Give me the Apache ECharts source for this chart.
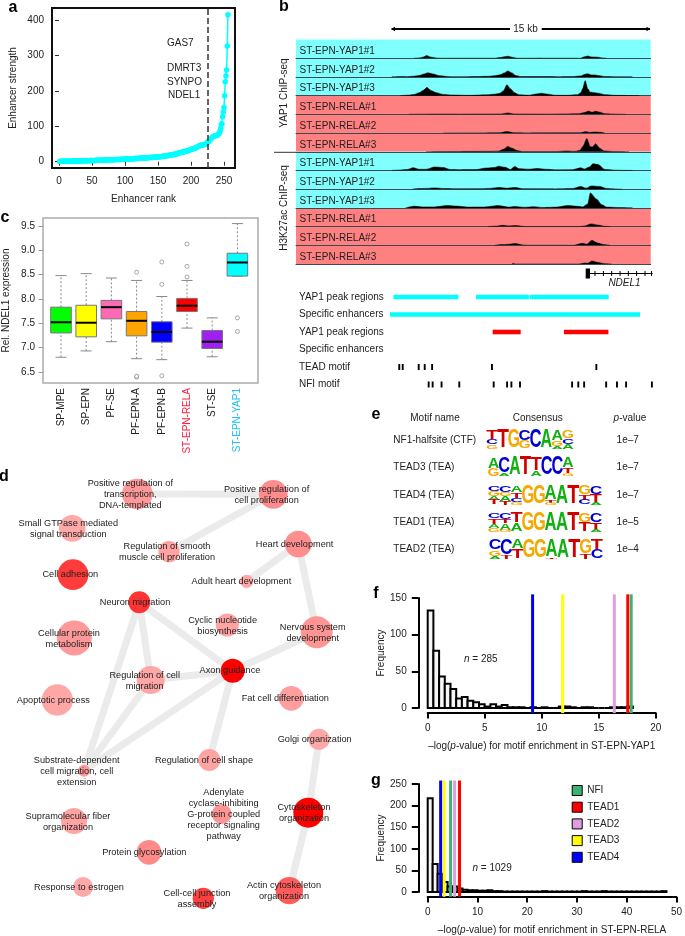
<!DOCTYPE html>
<html><head><meta charset="utf-8">
<style>html,body{margin:0;padding:0;background:#fff}#c{width:685px;height:936px}</style>
<script src="https://cdn.jsdelivr.net/npm/echarts@6/dist/echarts.min.js"></script>
</head><body><div id="c"></div>
<script>
// ---------- a: enhancer ranking ----------
const enhancerStrength = [
.8,.9,1,1,1,1.1,1.1,1.2,1.2,1.3, 1.3,1.3,1.4,1.4,1.5,1.5,1.5,1.6,1.6,1.7,
1.7,1.8,1.8,1.9,1.9,2,2,2.1,2.1,2.2, 2.2,2.3,2.3,2.4,2.4,2.5,2.5,2.6,2.7,2.7,
2.8,2.8,2.9,2.9,3,3,3.1,3.2,3.2,3.3, 3.4,3.4,3.5,3.6,3.6,3.7,3.8,3.8,3.9,4,
4,4.1,4.2,4.2,4.3,4.4,4.5,4.5,4.6,4.7, 4.8,4.8,4.9,5,5.1,5.1,5.2,5.3,5.4,5.5,
5.5,5.6,5.7,5.8,5.9,6,6,6.1,6.2,6.3, 6.4,6.5,6.5,6.6,6.7,6.8,6.9,7,7.1,7.2,
7.3,7.4,7.5,7.6,7.7,7.8,7.9,8,8.1,8.2, 8.3,8.4,8.5,8.6,8.7,8.8,8.9,9,9.2,9.3,
9.4,9.5,9.6,9.8,9.9,10,10.1,10.3,10.4,10.5, 10.7,10.8,11,11.1,11.2,11.4,11.5,11.7,11.8,12,
12.1,12.3,12.4,12.6,12.7,12.9,13,13.2,13.4,13.5, 13.7,13.9,14.1,14.3,14.5,14.7,14.9,15.1,15.3,15.6,
15.9,16.3,16.7,17,17.4,17.8,18,18.3,18.6,18.9, 19.2,19.5,19.9,20.3,20.8,21.2,21.6,22,22.6,23.4,
24.5,25,25.4,25.8,26.1,26.5,26.9,27.2,27.6,28, 28.6,29.2,29.8,30.4,31,31.6,32.3,33,33.6,34.2,
35,35.6,36.3,37,37.6,38.3,39,40,41,42, 43,44,45,45.8,46.5,47,47.3,47.7,48,48.4,
48.8,49.5,50.5,52,54,56,58,60,62,64, 66,68,69.5,71,72,72.8,73.5,74,74.5,75,
76,78,81,86,94,106,107,127,140,153, 186,226,242,259,327,415];
const superEnhancerCut = 225;
const enhancerGenes = ['GAS7','DMRT3','SYNPO','NDEL1'];
const rankTicks = [0,50,100,150,200,250];
const strengthTicks = [0,100,200,300,400];

// ---------- c: expression boxplots ----------
const subgroups = ['SP-MPE','SP-EPN','PF-SE','PF-EPN-A','PF-EPN-B','ST-EPN-RELA','ST-SE','ST-EPN-YAP1'];
const boxMin = [6.80,6.93,7.12,6.77,6.75,7.40,6.81,8.47];
const boxQ1  = [7.30,7.22,7.59,7.24,7.11,7.74,6.98,8.47];
const boxMed = [7.52,7.51,7.83,7.55,7.32,7.86,7.12,8.75];
const boxQ3  = [7.83,7.87,7.97,7.74,7.53,8.01,7.35,8.94];
const boxMax = [8.48,8.52,8.43,8.38,8.05,8.38,7.61,9.55];
const boxOutliers = [[3,8.55],[3,6.39],[3,6.41],[4,8.76],[4,8.30],[4,6.42],[5,9.13],[5,8.67],[5,8.45],[7,7.61],[7,7.33]];
const boxColors = ['#00ff00','#ffff00','#ff69b4','#ffa500','#0000ff','#ff0000','#a020f0','#00ffff'];
const exprTicks = [6.5,7,7.5,8,8.5,9,9.5];

// ---------- b: ChIP-seq tracks, [kb, signal] ----------
const yapYap1 = [[1.3,0],[1.6,.2],[1.85,1.2],[2.03,2.7],[2.25,1.2],[2.6,.2],[2.9,0],[6,0],[6.3,.6],[6.6,1.6],[6.75,2],[7,1],[7.3,0],[8.4,0],[8.6,.2],[8.8,0],[11,0],[11.15,1.2],[11.4,2.2],[11.6,1.3],[11.8,1.2],[12,1],[12.3,.2],[12.5,0]];
const yapYap2 = [[0,0],[.6,.3],[.9,.2],[1.2,.6],[1.6,1.5],[1.9,3],[2.1,4.2],[2.4,3],[2.8,1.2],[3.2,.5],[3.5,.2],[4.2,.2],[5,.4],[5.6,.6],[6,1.2],[6.3,2.2],[6.55,4],[6.75,6],[7,4],[7.2,1.5],[7.5,.4],[8.2,.4],[9,.4],[9.8,.2],[10.5,.3],[11,1],[11.2,2.5],[11.4,3.2],[11.6,2],[11.8,2],[12,1.5],[12.4,.4],[13,.2],[13.8,.1],[14,0]];
const yapYap3 = [[.5,0],[1,.5],[1.3,1.2],[1.6,3],[1.85,5.5],[2.05,8.3],[2.25,5.5],[2.6,3],[3,1.2],[3.5,.6],[4.5,.3],[5.5,.8],[6,1.5],[6.3,2.5],[6.5,5],[6.7,11],[6.9,7],[7.15,3],[7.4,.8],[8,.4],[8.3,1.5],[8.7,2.3],[9.1,1.5],[9.5,.4],[10.2,.3],[10.8,1],[11,3],[11.1,7],[11.25,15],[11.4,7],[11.55,3.5],[11.8,3],[12,2.5],[12.4,1],[13,.3],[14,.1],[14.4,0]];
const yapRela1 = [[1,.1],[2,.2],[3,.3],[4,.2],[5,.3],[6,.3],[6.4,.4],[6.75,1.4],[7.1,.4],[8,.3],[9,.2],[10,.4],[10.9,.6],[11.2,1.8],[11.45,3.3],[11.65,2],[11.85,3],[12.1,2.2],[12.4,.6],[13,.2],[13.6,0]];
const yapRela2 = [[3,0],[5,.1],[6.3,.3],[6.7,1.5],[7.1,.3],[8,.1],[10,.2],[11,.3],[11.3,1.5],[11.5,.6],[11.8,1],[12.1,.8],[12.4,0]];
const yapRela3 = [[2,0],[3,.2],[5.5,.4],[6.2,.6],[6.5,2.5],[6.75,5.3],[7,3.5],[7.3,1.2],[7.6,.2],[9.5,.2],[10.2,.8],[10.7,.4],[10.95,1.5],[11.1,5],[11.35,13.3],[11.55,5],[11.7,5],[11.85,8],[12.1,3.5],[12.35,.8],[13,.2],[13.8,0]];
const acYap1 = [[0,0],[.4,.4],[.9,1],[1.25,2.8],[1.6,1.2],[2,1.2],[2.5,3.5],[3,3],[3.4,1],[4,.8],[4.9,.9],[5.5,2.5],[6,3],[6.2,4.3],[6.6,3.2],[6.9,1],[7.15,4],[7.4,1.8],[8,1.3],[8.5,2],[9,1.2],[9.6,.6],[10.5,.8],[11,2.7],[11.2,1.4],[11.5,3.5],[11.7,6.7],[12,6],[12.4,1],[13,.3],[13.6,.1],[14,0]];
const acYap2 = [[1.2,0],[1.6,.6],[2,.8],[2.5,1.3],[3,.7],[4,.4],[5,.5],[5.7,.8],[6.2,1.7],[6.7,1],[7.2,1.7],[7.6,.5],[8.5,.4],[9.5,.3],[10.5,.6],[11,2.7],[11.3,1],[11.6,3.3],[12.1,2.8],[12.5,.6],[13,.2],[13.4,0]];
const acYap3 = [[.8,0],[1.3,1.7],[1.8,1],[2.5,1],[3.2,2.3],[3.8,1.8],[4.4,.8],[5.4,.9],[6.2,2.3],[6.8,.8],[7.2,1.5],[7.7,.6],[8.3,1.2],[8.8,.4],[9.6,.8],[10.2,2.3],[10.8,1.6],[11.1,1],[11.4,4],[11.55,15],[11.9,9],[12.2,3.5],[12.5,.8],[13.2,.3],[14,0]];
const acRela1 = [[5.6,0],[6.1,.5],[6.4,1.3],[6.8,.7],[7.2,1],[7.6,.3],[7.9,0],[10.9,0],[11.2,.6],[11.6,2.7],[12,1.6],[12.4,.3],[12.7,0]];
const acRela2 = [[6,0],[6.4,.7],[6.8,1],[7.2,1.7],[7.6,.4],[8,0],[10.6,0],[10.95,1.6],[11.1,2],[11.35,1],[11.63,5],[12,2.2],[12.3,.8],[12.7,0]];
const acRela3 = [[7,0],[7.05,.6],[7.2,0],[10.9,0],[11.2,1],[11.4,.8],[11.65,3],[12,1.6],[12.4,.3],[12.8,0]];
const trackLabels = ['ST-EPN-YAP1#1','ST-EPN-YAP1#2','ST-EPN-YAP1#3','ST-EPN-RELA#1','ST-EPN-RELA#2','ST-EPN-RELA#3'];
const trackSignals = [yapYap1,yapYap2,yapYap3,yapRela1,yapRela2,yapRela3,acYap1,acYap2,acYap3,acRela1,acRela2,acRela3];
const trackBg = ['#80ffff','#80ffff','#80ffff','#ff8080','#ff8080','#ff8080'];

// annotation rows (kb)
const annotationRows = ['YAP1 peak regions','Specific enhancers','YAP1 peak regions','Specific enhancers','TEAD motif','NFI motif'];
const yapPeaksCyan = [[.1,3.88],[4.9,7.98],[8.02,12.62]];
const enhancersCyan = [[-.1,14.44]];
const yapPeaksRed = [[5.87,7.5],[10.02,12.6]];
const teadMotifs = [.44,.64,1.57,1.92,2.35,5.83,11.9];
const nfiMotifs = [2.15,2.38,2.9,3.93,5.93,6.71,6.96,7.46,10.49,10.85,11.19,12.47,13.1,13.63,15.13];
const geneExon = [11.28,11.53];
const geneEnd = 15.17;
const geneTicks = [11.82,12.31,12.79,13.28,13.76,14.24,14.73,15.11];

// ---------- d: network ----------
const nodeLabels = ['Positive regulation of\ntranscription,\nDNA-templated','Positive regulation of\ncell proliferation','Small GTPase mediated\nsignal transduction','Regulation of smooth\nmuscle cell proliferation','Heart development','Cell adhesion','Adult heart development','Neuron migration','Cyclic nucleotide\nbiosynthesis','Cellular protein\nmetabolism','Nervous system\ndevelopment','Axon guidance','Regulation of cell\nmigration','Apoptotic process','Fat cell differentiation','Golgi organization','Regulation of cell shape','Substrate-dependent\ncell migration, cell\nextension','Adenylate\ncyclase-inhibiting\nG-protein coupled\nreceptor signaling\npathway','Cytoskeleton\norganization','Supramolecular fiber\norganization','Protein glycosylation','Response to estrogen','Cell-cell junction\nassembly','Actin cytoskeleton\norganization'];
const nodeX = [137.3,273.3,72.3,169,298.3,73,246.7,139.3,227.3,74.3,316.7,232.7,150.7,57.3,291.3,319,209.3,84,221.7,308.3,74,149,83,203.3,289.3];
const nodeY = [34,34.3,68.3,91.7,84,114.7,121.3,142.3,165,178,172.3,210.7,220,240,238.3,279.3,300,310.7,354,352.7,361,392.3,427,438.3,430.7];
const nodeSize = [30.7,28.7,26.7,21.3,26.7,30.7,13.3,22,23,35,32,24,28,31.3,24.7,21.3,22,12,20,30,26,24.7,20,21.3,27.3];
const nodeColor = ['#ff9999','#ff8c8c','#ffa8a8','#ffa3a3','#ff8f8f','#ff3b3b','#ffa8a8','#ff3333','#ffa3a3','#ff9999','#ff9494','#ff0000','#ffa6a6','#ffa6a6','#ff9e9e','#ffa8a8','#ffa3a3','#ff9999','#ff9494','#ff0000','#ffa3a3','#ff8a8a','#ffa8a8','#ff4040','#ff5c5c'];
const labelDx = [-7,-6.7,-4,-2,-3.7,-2.7,-5.3,-4.3,-4.7,-5.3,-4,-2.7,-6,-4,-6,-4.3,-5.3,-7.3,2,-4.3,-6,-4.7,-4,-6.3,-5.3];
const labelDy = [0,.7,.7,.7,0,0,0,0,.5,.5,.5,0,1,0,0,0,0,.7,.7,.7,.7,0,0,1,.7];
const edges = [[0,1],[1,3],[4,6],[4,10],[10,11],[7,11],[7,12],[7,17],[12,11],[12,17],[11,17],[11,16],[15,19],[19,24]];

// ---------- e: motif logos, top-to-bottom stacks ----------
const logoNames = ['NF1-halfsite (CTF)','TEAD3 (TEA)','TEAD4 (TEA)','TEAD1 (TEA)','TEAD2 (TEA)'];
const logoPvalues = ['1e\u20137','1e\u20137','1e\u20137','1e\u20135','1e\u20134'];
const logoNF1 = [[['T',.5],['C',.27],['G',.23]],[['T',1]],[['G',1]],[['C',.55],['G',.45]],[['C',1]],[['A',1]],[['A',.55],['G',.28],['A',.17]],[['G',.45],['C',.3],['A',.25]]];
const logoTEAD3 = [[['A',.6],['G',.4]],[['C',.85],['A',.15]],[['A',1]],[['T',1]],[['T',.7],['A',.3]],[['C',1]],[['C',1]],[['A',.55],['T',.3],['G',.15]]];
const logoTEAD4 = [[['C',.3],['G',.25],['A',.2],['T',.25]],[['C',.35],['G',.2],['A',.25],['T',.2]],[['A',.35],['T',.3],['C',.2],['G',.15]],[['G',1]],[['G',1]],[['A',.8],['T',.1],['G',.1]],[['A',1]],[['T',1]],[['G',.5],['T',.25],['C',.25]],[['C',.45],['T',.45],['A',.1]]];
const logoTEAD1 = [[['C',.3],['T',.3],['A',.2],['G',.2]],[['C',.35],['T',.2],['A',.35],['G',.1]],[['T',.55],['A',.45]],[['G',1]],[['G',1]],[['A',1]],[['A',1]],[['T',1]],[['G',.5],['T',.5]],[['C',.5],['T',.35],['A',.15]]];
const logoTEAD2 = [[['C',.55],['G',.3],['A',.15]],[['C',.8],['T',.2]],[['A',.5],['T',.5]],[['G',1]],[['G',1]],[['A',.93],['T',.07]],[['A',1]],[['T',1]],[['G',.75],['T',.25]],[['T',.55],['C',.45]]];
const logos = [logoNF1,logoTEAD3,logoTEAD4,logoTEAD1,logoTEAD2];
const letterColor = {A:'#10b010',C:'#0000d0',G:'#f5a800',T:'#d00000'};

// ---------- f, g: histograms ----------
const histFCounts = [133,78,43,33,26,13,15,10,8,5,2,5,2,4,1,1,1,0,1,0,1,0,0,2,2,1,0,1,1,0,0,0,1,1,1,2];
const histGCounts = [217,65,42,23,13,13,8,5,4,4,3,3,4,2,2,1,1,1,1,1,1,1,1,2,1,1,1,1,1,1,1,2,1,1,1,2,1,1,1,1,1,1,1,1,1,1,1,2];
const motifNames = ['NFI','TEAD1','TEAD2','TEAD3','TEAD4'];
const motifColors = ['#3cb371','#ff0000','#dda0dd','#ffff00','#0000ff'];
const motifF = [17.85,17.55,16.37,11.84,9.2];
const motifG = [4.6,6.4,5.4,3.3,2.6];

// ================= layout =================
const FF = '"Liberation Sans", Arial, sans-serif';
const INK = '#222';
const grids=[], xAxes=[], yAxes=[], series=[], graphic=[];
function addGrid(g,x,y){ grids.push(Object.assign({containLabel:false},g)); xAxes.push(Object.assign({gridIndex:grids.length-1},x)); yAxes.push(Object.assign({gridIndex:grids.length-1},y)); return grids.length-1; }
function txt(x,y,text,o={}){ graphic.push({type:'text',x,y,rotation:o.rot||0,z:50,silent:true,style:{text,fill:o.fill||INK,font:`${o.style||'normal'} ${o.weight||'normal'} ${o.size||10}px ${FF}`,textAlign:o.align||'left',textVerticalAlign:'middle',rich:o.rich}}); }
const axT = {fontFamily:FF,fontSize:10,color:INK};
const panelLetters = [['a',13,8],['b',284,7],['c',5,218],['d',4,477],['e',376,415],['f',376,594],['g',376,781]];
panelLetters.forEach(p=>txt(p[1],p[2],p[0],{weight:'bold',size:16,align:'center',fill:'#000'}));

// ---- a ----
let gi = addGrid({left:52,top:8,width:183,height:160,show:true,borderColor:'#111',borderWidth:2,backgroundColor:'#fff'},
 {type:'value',min:-10.6,max:266.7,splitLine:{show:false},axisLine:{show:false},
  axisTick:{customValues:rankTicks,length:4,lineStyle:{color:'#333'}},axisLabel:{customValues:rankTicks,margin:8,...axT},
  name:'Enhancer rank',nameLocation:'middle',nameGap:26,nameTextStyle:axT},
 {type:'value',min:-17.8,max:434,splitLine:{show:false},axisLine:{show:false},
  axisTick:{customValues:strengthTicks,length:4,lineStyle:{color:'#333'}},axisLabel:{customValues:strengthTicks,margin:8,...axT},
  name:'Enhancer strength',nameLocation:'middle',nameGap:34,nameTextStyle:axT});
series.push({type:'line',xAxisIndex:gi,yAxisIndex:gi,data:enhancerStrength.map((v,i)=>[i+1,v]),symbol:'circle',symbolSize:5.5,showSymbol:true,showAllSymbol:true,
 lineStyle:{color:'#00ffff',width:1.5},itemStyle:{color:'#00ffff'},
 markLine:{silent:true,symbol:'none',label:{show:false},lineStyle:{color:'#333',type:'dashed',width:1.5},data:[{xAxis:superEnhancerCut}]}});
[[167,43],[167,68],[167,82.7],[168,95]].forEach((p,i)=>txt(p[0],p[1],enhancerGenes[i]));

// ---- c ----
gi = addGrid({left:41,top:218,width:217,height:165,show:true,borderColor:'#aaa',borderWidth:1.5},
 {type:'value',show:false},
 {type:'value',min:6.27,max:9.665,splitLine:{show:false},axisLine:{show:false},
  axisTick:{customValues:exprTicks,length:4.5,lineStyle:{color:'#999'}},
  axisLabel:{customValues:exprTicks,margin:8,formatter:v=>v.toFixed(1),...axT},
  name:'Rel. NDEL1 expression',nameLocation:'middle',nameGap:32,nameTextStyle:axT});
gi = addGrid({left:48.4,top:218,width:201.6,height:165},
 {type:'category',data:subgroups,axisLine:{show:false},axisTick:{show:false},
  axisLabel:{interval:0,rotate:90,margin:5,fontFamily:FF,fontSize:10,color:(v,i)=>v==='ST-EPN-RELA'?'#ff2040':v==='ST-EPN-YAP1'?'#20c0f0':INK}},
 {type:'value',min:6.27,max:9.665,show:false});
series.push({type:'custom',xAxisIndex:gi,yAxisIndex:gi,
 data:subgroups.map((s,i)=>[i,boxMin[i],boxQ1[i],boxMed[i],boxQ3[i],boxMax[i]]),
 encode:{x:0,y:[1,2,3,4,5]},
 renderItem(p,api){
  const i=api.value(0), pt=v=>api.coord([i,api.value(v)]);
  const [x,y0]=pt(1),[,y1]=pt(2),[,y2]=pt(3),[,y3]=pt(4),[,y4]=pt(5);
  const bw=10.3, sw=5.5, wh={stroke:'#888',lineWidth:1,lineDash:[2,2]}, st={stroke:'#888',lineWidth:1};
  const ln=(a,b,c,d,s)=>({type:'line',shape:{x1:a,y1:b,x2:c,y2:d},style:s});
  return {type:'group',children:[
   ln(x,y0,x,y1,wh),ln(x,y3,x,y4,wh),ln(x-sw,y0,x+sw,y0,st),ln(x-sw,y4,x+sw,y4,st),
   {type:'rect',shape:{x:x-bw,y:y3,width:2*bw,height:y1-y3},style:{fill:boxColors[i],stroke:'#777',lineWidth:1}},
   ln(x-bw,y2,x+bw,y2,{stroke:'#000',lineWidth:2})]};
 }});
series.push({type:'scatter',xAxisIndex:gi,yAxisIndex:gi,data:boxOutliers,symbol:'circle',symbolSize:4,itemStyle:{color:'#fff',borderColor:'#777',borderWidth:.8}});

// ---- b tracks ----
const KBMIN=-5.564, KBMAX=15.06, TL=296, TW=354.7, RH=18.71, TT=39.5;
trackSignals.forEach((sig,i)=>{
 const g = addGrid({left:TL,top:TT+i*RH,width:TW,height:RH,show:true,backgroundColor:trackBg[i%6],borderWidth:0},
  {type:'value',min:KBMIN,max:KBMAX,splitLine:{show:false},axisTick:{show:false},axisLabel:{show:false},axisLine:{show:true,onZero:false,lineStyle:{color:'#3a4a50',width:1}}},
  {type:'value',min:0,max:RH,show:false});
 series.push({type:'line',xAxisIndex:g,yAxisIndex:g,data:sig,symbol:'none',smooth:.25,smoothMonotone:'x',lineStyle:{color:'#000',width:.5},areaStyle:{color:'#000',opacity:1},silent:true});
 txt(299.5,TT+i*RH+11.7,trackLabels[i%6]);
});
txt(284,93,'YAP1 ChIP-seq',{rot:Math.PI/2,align:'center'});
txt(284,208,'H3K27ac ChIP-seq',{rot:Math.PI/2,align:'center'});
graphic.push({type:'line',shape:{x1:274,y1:152.3,x2:296,y2:152.3},style:{stroke:'#333',lineWidth:1},silent:true});
// scale bar
[[391.7,510],[541.7,650]].forEach(s=>graphic.push({type:'line',shape:{x1:s[0],y1:29,x2:s[1],y2:29},style:{stroke:'#000',lineWidth:2},silent:true}));
graphic.push({type:'polygon',shape:{points:[[391,29],[395,26.8],[395,31.2]]},style:{fill:'#000'},silent:true});
graphic.push({type:'polygon',shape:{points:[[650.5,29],[646.5,26.8],[646.5,31.2]]},style:{fill:'#000'},silent:true});
txt(525.5,29,'15 kb',{align:'center'});

// gene model
gi = addGrid({left:TL,top:268,width:TW,height:11},{type:'value',min:KBMIN,max:KBMAX,show:false},{type:'value',min:-1,max:1,show:false});
series.push({type:'custom',xAxisIndex:gi,yAxisIndex:gi,data:[[geneExon[0],geneExon[1],geneEnd]],encode:{x:[0,1,2]},
 renderItem(p,api){
  const a=api.coord([api.value(0),0]), b=api.coord([api.value(1),0]), c=api.coord([api.value(2),0]);
  const kids=[{type:'rect',shape:{x:a[0],y:a[1]-5,width:b[0]-a[0],height:10},style:{fill:'#000'}},
   {type:'line',shape:{x1:b[0],y1:a[1],x2:c[0],y2:a[1]},style:{stroke:'#000',lineWidth:1}}];
  geneTicks.forEach(t=>{const q=api.coord([t,0]);kids.push({type:'line',shape:{x1:q[0],y1:q[1]-2.5,x2:q[0],y2:q[1]+2.5},style:{stroke:'#000',lineWidth:1}});});
  return {type:'group',children:kids};
 }});
txt(624.5,283.7,'NDEL1',{style:'italic',align:'center'});

// annotation rows
gi = addGrid({left:TL,top:288.25,width:TW,height:105},
 {type:'value',min:KBMIN,max:KBMAX,show:false},
 {type:'category',inverse:true,data:annotationRows.map((s,i)=>({value:s})),axisLine:{show:false},axisTick:{show:false},axisLabel:{inside:true,interval:0,margin:3,align:'left',...axT}});
function intervalSeries(rowIdx,list,color,h){
 series.push({type:'custom',xAxisIndex:gi,yAxisIndex:gi,data:list.map(s=>[s[0],s[1],rowIdx]),encode:{x:[0,1]},
  renderItem(p,api){const a=api.coord([api.value(0),api.value(2)]),b=api.coord([api.value(1),api.value(2)]);
   return {type:'rect',shape:{x:a[0],y:a[1]-h/2,width:b[0]-a[0],height:h},style:{fill:color}};}});
}
intervalSeries(0,yapPeaksCyan,'#00ffff',4.6);
intervalSeries(1,enhancersCyan,'#00ffff',4.6);
intervalSeries(2,yapPeaksRed,'#ff0000',4.6);
intervalSeries(4,teadMotifs.map(k=>[k-.055,k+.055]),'#000',6);
intervalSeries(5,nfiMotifs.map(k=>[k-.055,k+.055]),'#000',6);

// ---- d ----
gi = addGrid({left:0,top:460,width:360,height:476},{type:'value',min:0,max:360,show:false},{type:'value',min:0,max:476,inverse:true,show:false});
series.push({type:'graph',coordinateSystem:'cartesian2d',xAxisIndex:gi,yAxisIndex:gi,layout:'none',silent:true,
 data:nodeLabels.map((s,i)=>({name:'n'+i,value:[nodeX[i],nodeY[i]],symbolSize:nodeSize[i],itemStyle:{color:nodeColor[i]},
   label:{show:true,position:'inside',formatter:s,offset:[labelDx[i],labelDy[i]],color:INK,fontFamily:FF,fontSize:9.2,lineHeight:11}})),
 links:edges.map(e=>({source:'n'+e[0],target:'n'+e[1]})),
 lineStyle:{color:'#ebebeb',width:7,opacity:1,curveness:0}});

// ---- e ----
txt(435,418.7,'Motif name',{align:'center'});
txt(537.7,418.7,'Consensus',{align:'center'});
txt(630,418.7,'{i|p}-value',{align:'center',rich:{i:{fontStyle:'italic',fontFamily:FF,fontSize:10,fill:INK}}});
const logoBox = [[486.7,430.7,86.7,18.7],[488.3,458.3,85,18.3],[488.3,486,113.3,19],[488.3,513.3,113.3,19],[489.3,540,113.3,19.3]];
const rowY = [440.7,467.7,495,522.3,549.3];
const letterW = {A:13.6,C:13,G:13.8,T:11.4};
logos.forEach((logo,li)=>{
 txt(393.3,rowY[li],logoNames[li]);
 txt(627.7,rowY[li],logoPvalues[li],{align:'center'});
 const b=logoBox[li];
 const g=addGrid({left:b[0],top:b[1],width:b[2],height:b[3]},{type:'value',min:0,max:logo.length,show:false},{type:'value',min:0,max:1,show:false});
 const cells=[]; const chars=[];
 logo.forEach((stack,c)=>{let top=1;stack.forEach(e=>{cells.push([c,top-e[1],top,chars.length]);chars.push(e[0]);top-=e[1];});});
 series.push({type:'custom',xAxisIndex:g,yAxisIndex:g,data:cells,encode:{x:0,y:[1,2]},
  renderItem(p,api){
   const c=api.value(0),ch=chars[api.value(3)];
   const a=api.coord([c,api.value(1)]),d=api.coord([c+1,api.value(2)]);
   const w=d[0]-a[0],h=a[1]-d[1];
   return {type:'text',x:(a[0]+d[0])/2,y:(a[1]+d[1])/2,scaleX:w/letterW[ch],scaleY:h/14.6,
    style:{text:ch,fill:letterColor[ch],font:`bold 20px ${FF}`,textAlign:'center',textVerticalAlign:'middle'}};
  }});
});

// ---- f, g ----
function histogram(G,xOpt,yOpt,counts,binW,motifs,vTop,vBot){
 const g=addGrid(G,
  Object.assign({type:'value',offset:5,splitLine:{show:false},axisLine:{show:true,onZero:false,lineStyle:{color:'#000',width:2}},axisTick:{length:5.5,lineStyle:{color:'#000',width:2}},axisLabel:{margin:10,...axT},nameLocation:'middle',nameTextStyle:Object.assign({},axT,{rich:{a:axT,i:Object.assign({},axT,{fontStyle:'italic'})}})},xOpt),
  Object.assign({type:'value',offset:9.4,splitLine:{show:false},axisLine:{show:true,onZero:false,lineStyle:{color:'#000',width:2}},axisTick:{length:6.5,lineStyle:{color:'#000',width:2}},axisLabel:{margin:11.6,...axT},name:'Frequency',nameLocation:'middle',nameGap:31.6,nameTextStyle:axT},yOpt));
 series.push({type:'custom',name:'Frequency',xAxisIndex:g,yAxisIndex:g,data:counts.map((c,i)=>[i*binW,(i+1)*binW,c]),encode:{x:[0,1],y:2},silent:true,
  renderItem(p,api){
   const a=api.coord([api.value(0),api.value(2)]),b=api.coord([api.value(1),0]);
   return {type:'rect',shape:{x:a[0],y:a[1],width:b[0]-a[0],height:b[1]-a[1]},style:{fill:'#f6f6f6',stroke:'#000',lineWidth:2}};
  }});
 motifNames.forEach((n,i)=>series.push({type:'custom',name:n,xAxisIndex:g,yAxisIndex:g,data:[[motifs[i]]],encode:{x:0},z:5,itemStyle:{color:motifColors[i]},silent:true,
  renderItem(p,api){const a=api.coord([api.value(0),vTop]),b=api.coord([api.value(0),vBot]);
   return {type:'line',shape:{x1:a[0],y1:a[1],x2:b[0],y2:b[1]},style:{stroke:motifColors[i],lineWidth:3}};}}));
}
histogram({left:427.7,top:598,width:228,height:110},
 {min:0,max:20,interval:5,nameGap:28,name:'{a|\u2013log(}{i|p}{a|-value) for motif enrichment in ST-EPN-YAP1}'},
 {min:0,max:150,interval:50},histFCounts,.5,motifF,155,-7);
histogram({left:427.7,top:784,width:251.5,height:111},
 {min:0,max:50,interval:10,nameGap:28,name:'{a|\u2013log(}{i|p}{a|-value) for motif enrichment in ST-EPN-RELA}'},
 {min:0,max:250,interval:50},histGCounts,1,motifG,258,-11);
const nRich={i:{fontStyle:'italic',fontFamily:FF,fontSize:10,fill:INK}};
txt(464,659,'{i|n} = 285',{rich:nRich});
txt(472.5,868,'{i|n} = 1029',{rich:nRich});

const chart = echarts.init(document.getElementById('c'),null,{renderer:'canvas'});
chart.setOption({
 animation:false,backgroundColor:'#fff',textStyle:{fontFamily:FF},
 grid:grids,xAxis:xAxes,yAxis:yAxes,series,graphic,
 legend:{data:motifNames,orient:'vertical',left:571.7,top:785,padding:0,icon:'rect',itemWidth:10,itemHeight:10,itemGap:5.7,selectedMode:false,
  textStyle:axT,itemStyle:{borderColor:'#000',borderWidth:1}}
});
</script></body></html>
